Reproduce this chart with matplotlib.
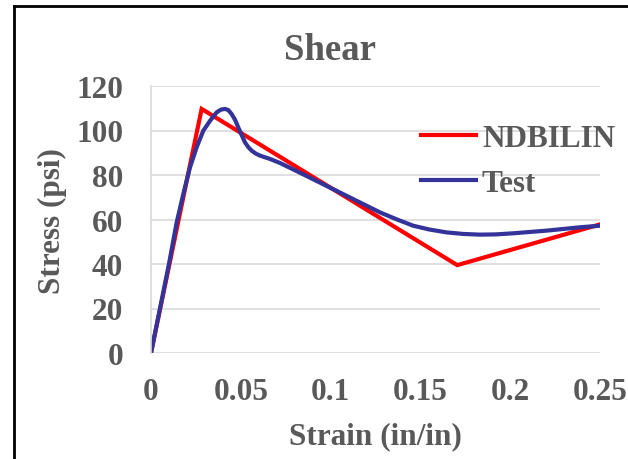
import matplotlib
matplotlib.use("Agg")
import matplotlib.pyplot as plt
from matplotlib.lines import Line2D

# NDBILIN bilinear model
ndb_strain = [0.0, 0.0282, 0.1705, 0.25]
ndb_stress = [0.0, 109.7, 39.5, 57.8]

# Test curve
test_strain = [0.0, 0.005, 0.01, 0.0143, 0.018, 0.0217, 0.0254, 0.0291, 0.0329,
               0.0366, 0.039, 0.0412, 0.043, 0.0449, 0.0468, 0.0486, 0.0505,
               0.0523, 0.0542, 0.0561, 0.0584, 0.0607, 0.0663, 0.0718, 0.08,
               0.09, 0.1, 0.11, 0.12, 0.1275, 0.137, 0.146, 0.155, 0.1646,
               0.174, 0.183, 0.192, 0.2017, 0.2203, 0.2389, 0.25]
test_stress = [0.0, 20, 40, 58.7, 71.5, 83.4, 92.4, 99.9, 104.4,
               108.2, 109.4, 109.7, 109.2, 107.4, 104.8, 101.4, 97.9,
               94.7, 92.5, 90.9, 89.6, 88.7, 87.2, 85.4, 82.2,
               78.2, 74.2, 70.2, 66.2, 63.2, 60.0, 57.2, 55.5, 54.2,
               53.5, 53.2, 53.3, 53.8, 55.0, 56.5, 57.2]

x_ticks = [0, 0.05, 0.1, 0.15, 0.2, 0.25]
x_labels = ["0", "0.05", "0.1", "0.15", "0.2", "0.25"]
y_ticks = [0, 20, 40, 60, 80, 100, 120]

TXT = "#595959"
GRID = "#d9d9d9"
plt.rcParams["font.family"] = ["Liberation Serif", "DejaVu Serif"]
plt.rcParams["font.weight"] = "bold"

W, H = 628, 460
fig = plt.figure(figsize=(W / 100, H / 100), dpi=100)
ax = fig.add_axes([151 / W, 1 - 354 / H, (600 - 151) / W, (354 - 87) / H])

ax.plot(ndb_strain, ndb_stress, color="#ff0000", lw=3, label="NDBILIN", solid_joinstyle="miter")
ax.plot(test_strain, test_stress, color="#333399", lw=3, label="Test",
        solid_joinstyle="round")

ax.set_xlim(0, 0.25)
ax.set_ylim(0, 120)
ax.set_xticks(x_ticks)
ax.set_xticklabels(x_labels)
ax.set_yticks(y_ticks)
ax.yaxis.grid(True, color=GRID, lw=1.2)
ax.set_axisbelow(True)
for s in ["top", "right", "bottom"]:
    ax.spines[s].set_visible(False)
ax.spines["left"].set_color(GRID)
ax.spines["left"].set_linewidth(1.2)
ax.tick_params(length=0, labelsize=22.5, labelcolor=TXT)
ax.tick_params(axis="x", pad=17)
ax.tick_params(axis="y", pad=20)

fig.text(330 / W, 1 - 51 / H, "Shear", ha="center", va="center",
         fontsize=26.5, color=TXT, fontweight="bold")
fig.text(52 / W, 1 - 221 / H, "Stress (psi)", ha="center", va="center",
         rotation=90, fontsize=22.5, color=TXT, fontweight="bold")
fig.text(375 / W, 1 - 437 / H, "Strain (in/in)", ha="center", va="center",
         fontsize=22.5, color=TXT, fontweight="bold")

leg = ax.legend(loc="upper left", bbox_to_anchor=(421 / W, 1 - 125 / H),
                bbox_transform=fig.transFigure, frameon=False, fontsize=22.5,
                handlelength=1.75, handletextpad=0.2, labelspacing=0.5,
                borderpad=0, borderaxespad=0)
for t in leg.get_texts():
    t.set_color(TXT)

# chart-area border (cut off on right and bottom)
fig.add_artist(Line2D([14 / W, 1.01], [1 - 7 / H, 1 - 7 / H], color="black", lw=2,
                      transform=fig.transFigure))
fig.add_artist(Line2D([14 / W, 14 / W], [1 - 7 / H, -0.01], color="black", lw=2,
                      transform=fig.transFigure))

fig.savefig("out.png", dpi=100)
